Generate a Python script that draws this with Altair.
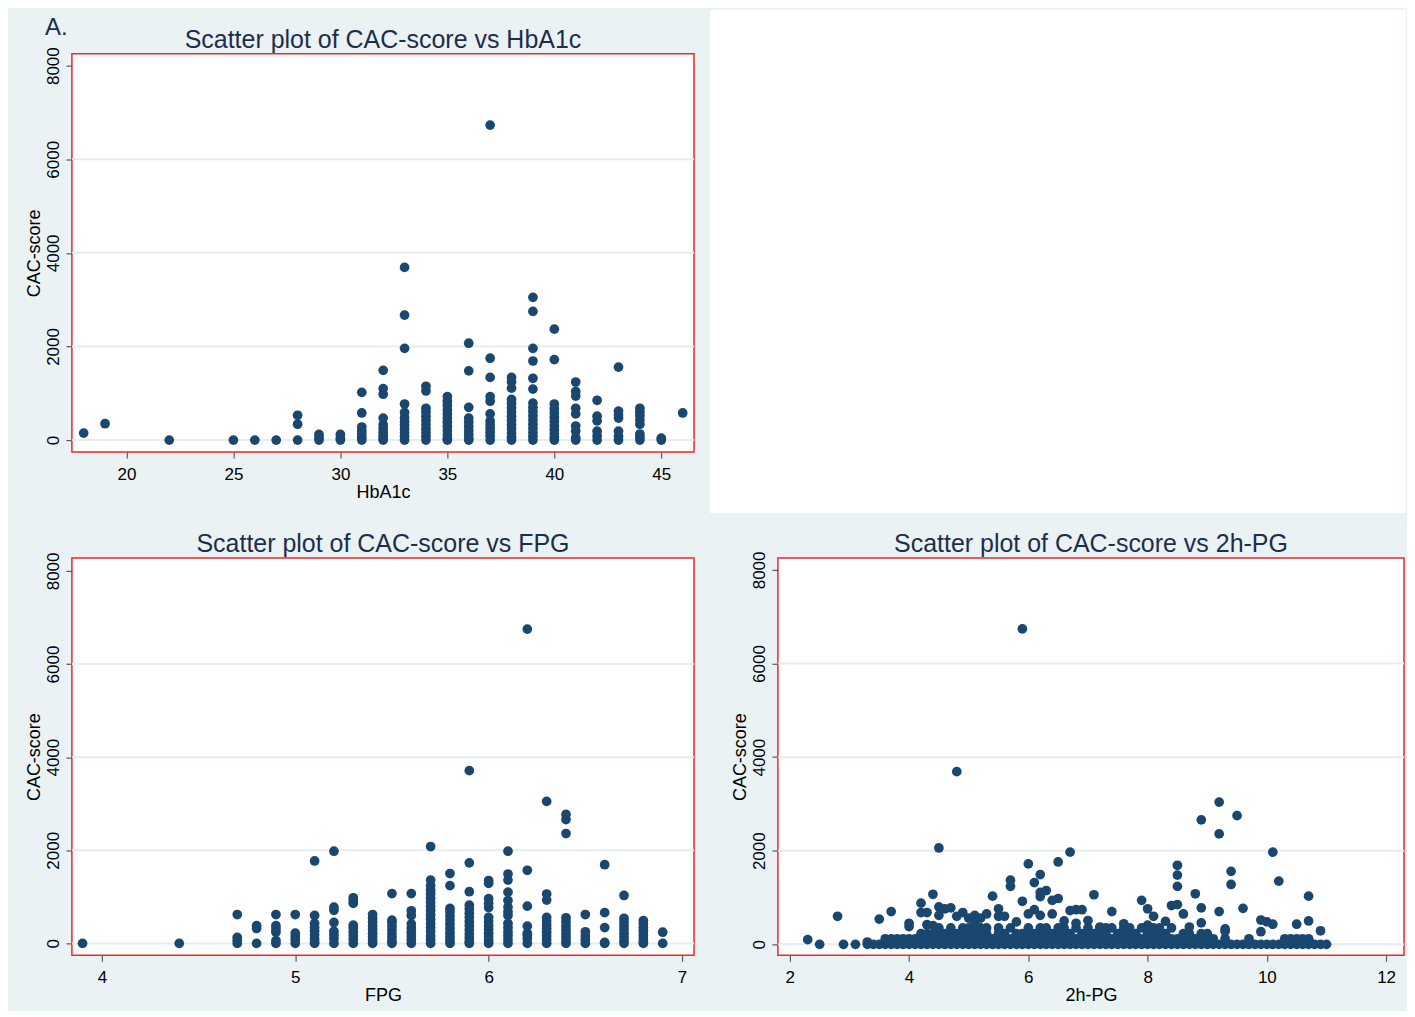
import altair as alt
import pandas as pd

# ---------------- data ----------------
y_ticks = [0, 2000, 4000, 6000, 8000]
grid_values = [0, 2000, 4000, 6000]
panel_tags = ["A."]

titles = [
    "Scatter plot of CAC-score vs HbA1c",
    "Scatter plot of CAC-score vs FPG",
    "Scatter plot of CAC-score vs 2h-PG",
]

# Panel A: HbA1c (mmol/mol) -> CAC-score values in each column
hba1c_columns = {
    18: [150],
    19: [350],
    22: [0],
    25: [0],
    26: [0],
    27: [0],
    28: [0, 340, 530],
    29: [0, 50, 120],
    30: [0, 40, 120],
    31: [0, 60, 130, 200, 280, 580, 1020],
    32: [0, 40, 100, 170, 250, 330, 470, 980, 1100, 1490],
    33: [0, 80, 160, 240, 320, 400, 480, 590, 770, 1960, 2670, 3690],
    34: [0, 80, 160, 240, 330, 420, 510, 600, 680, 1050, 1150],
    35: [0, 30, 110, 200, 290, 380, 470, 560, 650, 740, 830, 930],
    36: [0, 40, 120, 200, 290, 380, 470, 700, 1480, 2070],
    37: [0, 90, 170, 250, 330, 410, 560, 830, 930, 1340, 1750, 6730],
    38: [0, 60, 150, 240, 330, 420, 510, 600, 690, 780, 870, 1110, 1240, 1340],
    39: [0, 80, 160, 250, 340, 430, 520, 610, 700, 790, 1090, 1320, 1690, 1960, 2750, 3050],
    40: [0, 60, 140, 220, 310, 400, 490, 580, 670, 770, 1720, 2370],
    41: [0, 50, 190, 300, 560, 680, 940, 1040, 1240],
    42: [0, 90, 190, 410, 510, 850],
    43: [0, 80, 190, 470, 540, 620, 1560],
    44: [0, 60, 130, 340, 430, 520, 600, 680],
    45: [0, 40],
    46: [580],
}

# Panel B: FPG (mmol/L) -> CAC-score values in each column
fpg_columns = {
    3.9: [0],
    4.4: [0],
    4.7: [0, 70, 130, 620],
    4.8: [0, 320, 380],
    4.9: [0, 60, 240, 310, 380, 620],
    5.0: [0, 80, 150, 220, 620],
    5.1: [0, 30, 100, 180, 260, 340, 430, 600, 1770],
    5.2: [0, 100, 180, 260, 450, 710, 780, 1980],
    5.3: [0, 90, 170, 250, 330, 390, 860, 920, 980],
    5.4: [0, 60, 140, 220, 300, 380, 460, 540, 620],
    5.5: [0, 50, 130, 210, 290, 370, 450, 500, 1070],
    5.6: [0, 80, 160, 240, 330, 420, 600, 700, 1070],
    5.7: [0, 80, 160, 250, 340, 430, 520, 610, 700, 790, 880, 970, 1060, 1140, 1240, 1360, 2080],
    5.8: [0, 70, 150, 230, 320, 410, 500, 590, 680, 750, 1240, 1500],
    5.9: [0, 40, 120, 200, 290, 380, 470, 560, 650, 740, 820, 1110, 1730, 3710],
    6.0: [0, 60, 140, 220, 300, 380, 470, 560, 770, 860, 960, 1290, 1350],
    6.1: [0, 80, 170, 250, 340, 430, 600, 680, 780, 920, 1100, 1360, 1490, 1980],
    6.2: [0, 100, 180, 220, 370, 800, 1570, 6750],
    6.3: [0, 80, 160, 240, 320, 400, 480, 560, 930, 1060, 3050],
    6.4: [0, 60, 140, 220, 300, 380, 470, 550, 2360, 2660, 2770],
    6.5: [0, 80, 160, 250, 620],
    6.6: [0, 20, 340, 660, 1690],
    6.7: [0, 60, 140, 220, 300, 380, 460, 540, 1030],
    6.8: [0, 30, 100, 180, 260, 340, 420, 490],
    6.9: [0, 240],
}

# Panel C: 2h-PG (mmol/L)
pg2h_zero_row = [2.5, 2.9, 3.1, 3.3, 3.4, 3.5, 3.6, 3.7, 3.8, 3.9, 4.0, 4.1, 4.2, 4.3, 4.4,
                 4.5, 4.6, 4.7, 4.8, 4.9, 5.0, 5.1, 5.2, 5.3, 5.4, 5.5, 5.6, 5.7, 5.8, 5.9,
                 6.0, 6.1, 6.2, 6.3, 6.4, 6.5, 6.6, 6.7, 6.8, 6.9, 7.0, 7.1, 7.2, 7.3, 7.4,
                 7.5, 7.6, 7.7, 7.8, 7.9, 8.0, 8.1, 8.2, 8.3, 8.4, 8.5, 8.6, 8.7, 8.8, 8.9,
                 9.0, 9.1, 9.2, 9.3, 9.4, 9.5, 9.6, 9.7, 9.8, 9.9, 10.0, 10.1, 10.2, 10.3,
                 10.4, 10.5, 10.6, 10.7, 10.8, 10.9, 11.0]
pg2h_row_120 = [3.6, 3.7, 3.8, 3.9, 4.0, 4.1, 4.2, 4.3, 4.4, 4.5, 4.6, 4.7, 4.8, 4.9, 5.0,
                5.1, 5.2, 5.3, 5.4, 5.5, 5.6, 5.7, 5.8, 5.9, 6.0, 6.1, 6.2, 6.3, 6.4, 6.5,
                6.6, 6.7, 6.8, 6.9, 7.0, 7.1, 7.2, 7.3, 7.4, 7.5, 7.6, 7.7, 7.8, 7.9, 8.0,
                8.1, 8.2, 8.3, 8.4, 8.5, 8.6, 8.7, 8.8, 8.9, 9.0, 9.1, 9.3, 9.7, 10.3, 10.4,
                10.5, 10.6, 10.7]
pg2h_row_230 = [4.2, 4.3, 4.4, 4.5, 4.6, 4.7, 4.8, 4.9, 5.0, 5.1, 5.2, 5.3, 5.5, 5.6, 5.8,
                5.9, 6.0, 6.1, 6.2, 6.3, 6.4, 6.5, 6.6, 6.7, 6.9, 7.0, 7.1, 7.2, 7.3, 7.5,
                7.6, 7.7, 7.8, 8.0, 8.1, 8.2, 8.3, 8.6, 8.7, 8.9, 9.0]
pg2h_row_350 = [4.5, 4.7, 4.9, 5.0, 5.1, 5.2, 5.3, 5.5, 5.7, 6.0, 6.2, 6.3, 6.5, 6.6, 6.8,
                7.0, 7.2, 7.3, 7.4, 7.6, 7.7, 7.9, 8.1, 8.2, 8.4]
pg2h_scatter_x = [2.3, 2.8, 3.3, 3.5, 3.7, 4.0, 4.0, 4.2, 4.2, 4.3, 4.3, 4.4, 4.4, 4.5, 4.5,
                  4.5, 4.6, 4.7, 4.8, 4.8, 4.9, 5.0, 5.1, 5.1, 5.2, 5.3, 5.4, 5.5, 5.5, 5.6,
                  5.7, 5.7, 5.8, 5.9, 5.9, 6.0, 6.0, 6.1, 6.1, 6.2, 6.2, 6.2, 6.2, 6.3, 6.4,
                  6.4, 6.5, 6.5, 6.6, 6.7, 6.7, 6.8, 6.8, 6.9, 7.0, 7.1, 7.2, 7.4, 7.6, 7.9,
                  8.0, 8.0, 8.1, 8.3, 8.4, 8.5, 8.5, 8.5, 8.5, 8.6, 8.7, 8.8, 8.9, 8.9, 8.9,
                  9.2, 9.2, 9.2, 9.3, 9.3, 9.4, 9.4, 9.5, 9.6, 9.9, 9.9, 10.0, 10.1, 10.1,
                  10.2, 10.5, 10.7, 10.7, 10.7, 10.9]
pg2h_scatter_cac = [100, 600, 50, 540, 700, 380, 450, 880, 680, 680, 420, 1070, 400, 2060, 800,
                    620, 760, 780, 3690, 600, 680, 560, 620, 440, 560, 650, 1030, 760, 600, 600,
                    1370, 1240, 480, 6740, 920, 1720, 650, 1320, 740, 1490, 1110, 1020, 620, 1150, 940,
                    650, 1760, 980, 500, 1970, 720, 740, 450, 740, 510, 1060, 370, 700, 440, 940,
                    760, 410, 600, 490, 830, 1690, 1480, 1240, 850, 650, 370, 1080, 2660, 780, 460,
                    3040, 2360, 700, 330, 280, 1560, 1280, 2750, 770, 520, 270, 480, 1970, 430,
                    1350, 430, 1030, 500, 90, 290]

# ---------------- styling ----------------
BG = "#EAF2F3"
RED = "#E8282B"
NAVY = "#1A476F"
TITLE_COLOR = "#1C2E4A"
GRID = "#E4EDEF"
FONT = "Liberation Sans"


def columns_to_df(columns, xname):
    rows = []
    for xv, ys in columns.items():
        for yv in ys:
            rows.append({xname: xv, "cac": yv})
    return pd.DataFrame(rows)


df_a = columns_to_df(hba1c_columns, "hba1c")
df_b = columns_to_df(fpg_columns, "fpg")
rows_c = []
for xv in pg2h_zero_row:
    rows_c.append({"pg2h": xv, "cac": 0})
for xv in pg2h_row_120:
    rows_c.append({"pg2h": xv, "cac": 120})
for xv in pg2h_row_230:
    rows_c.append({"pg2h": xv, "cac": 230})
for xv in pg2h_row_350:
    rows_c.append({"pg2h": xv, "cac": 350})
for xv, yv in zip(pg2h_scatter_x, pg2h_scatter_cac):
    rows_c.append({"pg2h": xv, "cac": yv})
df_c = pd.DataFrame(rows_c)

grid_df = pd.DataFrame({"cac": grid_values})


def scatter_panel(df, xfield, xtitle, xdomain, xticks, ydomain, title, width, height, extra=()):
    xs = alt.Scale(domain=xdomain, nice=False, zero=False)
    ys = alt.Scale(domain=ydomain, nice=False, zero=False)
    y_axis = alt.Axis(values=y_ticks, format="d", title="CAC-score", grid=False, labelFlush=False,
                      labelAngle=270, labelAlign="center", labelBaseline="alphabetic",
                      labelPadding=7, titleAngle=270, titleX=-32, titleY=height / 2,
                      titleAlign="center", titleBaseline="alphabetic")
    grid = alt.Chart(grid_df).mark_rule(color=GRID, strokeWidth=2).encode(
        y=alt.Y("cac:Q", scale=ys, axis=y_axis)
    )
    pts = alt.Chart(df).mark_circle(size=95, color=NAVY, opacity=1).encode(
        x=alt.X(f"{xfield}:Q", scale=xs,
                axis=alt.Axis(values=xticks, format="d", title=xtitle, grid=False, labelFlush=False,
                              labelPadding=8, titleX=width / 2, titleY=45,
                              titleAlign="center", titleBaseline="alphabetic")),
        y=alt.Y("cac:Q", scale=ys, axis=y_axis),
    )
    title_layer = alt.Chart(pd.DataFrame({"t": [title]})).mark_text(
        font=FONT, fontSize=25, color=TITLE_COLOR, align="center", baseline="alphabetic"
    ).encode(text="t:N", x=alt.value(width / 2), y=alt.value(-6))
    return alt.layer(grid, pts, title_layer, *extra).properties(width=width, height=height)


tag_layer = alt.Chart(pd.DataFrame({"tag": panel_tags})).mark_text(
    font=FONT, fontSize=24, color=TITLE_COLOR, align="left", baseline="alphabetic"
).encode(text="tag:N", x=alt.value(-27), y=alt.value(-19))

# background-coloured block fixing the bottom-left extent of the canvas
extent_layer = alt.Chart(pd.DataFrame({"k": [0]})).mark_rect(color=BG).encode(
    x=alt.value(-63), x2=alt.value(-60), y=alt.value(440), y2=alt.value(452)
)

W1, W2 = 623, 627
H1, H2 = 399, 398

panel_a = scatter_panel(df_a, "hba1c", "HbA1c", [17.45, 46.53], [20, 25, 30, 35, 40, 45],
                        [-256, 8256], titles[0], W1, H1, extra=(tag_layer,))
panel_b = scatter_panel(df_b, "fpg", "FPG", [3.845, 7.062], [4, 5, 6, 7],
                        [-257, 8279], titles[1], W1, H2, extra=(extent_layer,))
panel_c = scatter_panel(df_c, "pg2h", "2h-PG", [1.80, 12.30], [2, 4, 6, 8, 10, 12],
                        [-235, 8256], titles[2], W2, H2)

blank = alt.Chart(pd.DataFrame({"k": [0]})).mark_rect(
    color="white", stroke="white", strokeWidth=2
).encode(
    x=alt.value(-67), x2=alt.value(628), y=alt.value(-43), y2=alt.value(459)
).properties(width=W2, height=H1, view=alt.ViewBackground(stroke="transparent", fill="white"))

chart = alt.concat(
    panel_a, blank, panel_b, panel_c,
    columns=2,
    spacing=alt.RowColnumber(row=106, column=84),
    bounds="flush",
    align="each",
).properties(
    background=BG, padding=0
).configure_view(
    stroke=RED, strokeWidth=1.5, fill="white"
).configure_axis(
    domain=False,
    tickColor="#5A5A5A", tickSize=6, tickWidth=1.2,
    labelFont=FONT, labelFontSize=17, labelColor="black",
    titleFont=FONT, titleFontSize=18, titleFontWeight="normal", titleColor="black",
)

chart.save("out.html", embed_options={"renderer": "svg", "actions": False})
